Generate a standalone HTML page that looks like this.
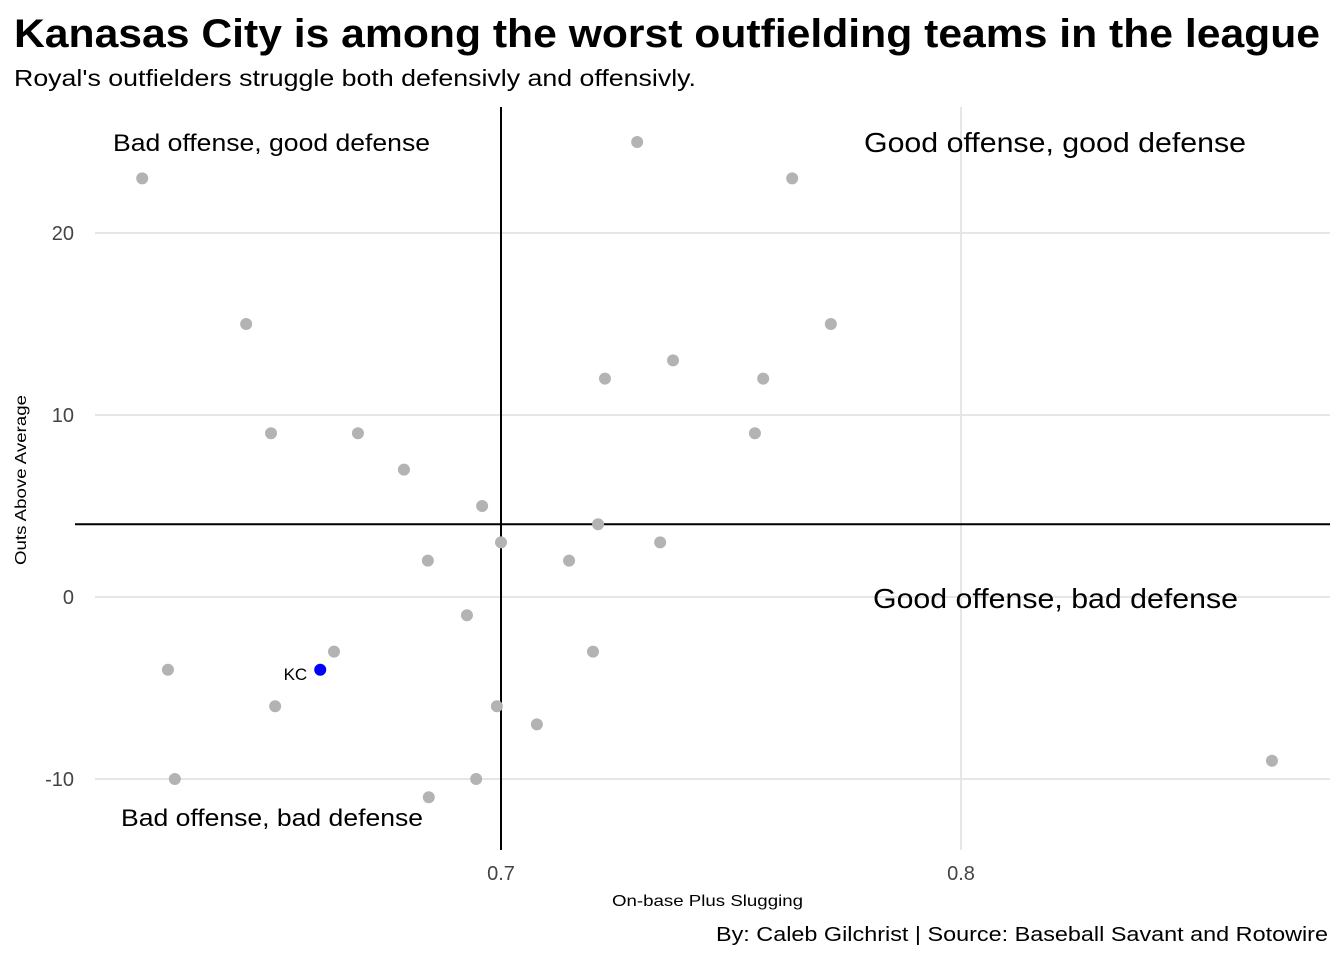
<!DOCTYPE html>
<html><head><meta charset="utf-8"><style>
body{margin:0;background:#fff;font-family:"Liberation Sans",sans-serif}
</style></head><body>
<svg width="1344" height="960" font-family="Liberation Sans, sans-serif">
<text x="14" y="47" font-size="40" font-weight="bold" textLength="1306" lengthAdjust="spacingAndGlyphs">Kanasas City is among the worst outfielding teams in the league</text>
<text x="14" y="86" font-size="23" textLength="682" lengthAdjust="spacingAndGlyphs">Royal's outfielders struggle both defensivly and offensivly.</text>
<g id="grid"></g>
<g id="pts"></g>
<g id="ann"></g>
<text x="612" y="906" font-size="16" textLength="191" lengthAdjust="spacingAndGlyphs">On-base Plus Slugging</text>
<text transform="translate(26,565) rotate(-90)" font-size="16" textLength="170" lengthAdjust="spacingAndGlyphs">Outs Above Average</text>
<text x="716" y="941" font-size="20" textLength="612" lengthAdjust="spacingAndGlyphs">By: Caleb Gilchrist | Source: Baseball Savant and Rotowire</text>
</svg>
<script>
const xTicks=[0.7,0.8];
const yTicks=[20,10,0,-10];
const ops=[0.622,0.6446,0.65,0.6689,0.6789,0.6959,0.6841,0.7,0.6926,0.6637,0.6276,0.6509,0.6291,0.6843,0.6946,0.6991,0.7078,0.7148,0.72,0.7211,0.7226,0.7296,0.7346,0.7374,0.7552,0.757,0.7633,0.7717,0.8676];
const oaa=[23,15,9,9,7,5,2,3,-1,-3,-4,-6,-10,-11,-10,-6,-7,2,-3,4,12,25,3,13,9,12,23,15,-9];
const kcOps=[0.6607];const kcOaa=[-4];
const meanOps=0.7, meanOaa=4;
const X=v=>501+(v-0.7)*4600, Y=v=>597-v*18.2;
const ns="http://www.w3.org/2000/svg";
function mk(t,a,p){const e=document.createElementNS(ns,t);for(const k in a)e.setAttribute(k,a[k]);document.getElementById(p).appendChild(e);return e;}
yTicks.forEach(t=>{const l=mk('line',{x1:95,x2:1330,y1:Y(t),y2:Y(t),stroke:'#e6e6e6','stroke-width':2},'grid');


const tx=mk('text',{x:74,y:Y(t)+7,'font-size':20,fill:'#444','text-anchor':'end'},'grid');tx.textContent=t;

});
xTicks.forEach(t=>{const l=mk('line',{x1:X(t),x2:X(t),y1:107,y2:850,stroke:'#e6e6e6','stroke-width':2},'grid');


const tx=mk('text',{x:X(t),y:880,'font-size':20,fill:'#444','text-anchor':'middle'},'grid');tx.textContent=t;

});
const vl=mk('line',{x1:X(meanOps),x2:X(meanOps),y1:107,y2:850,stroke:'#000','stroke-width':2},'grid');


const hl=mk('line',{x1:75,x2:1330,y1:Y(meanOaa),y2:Y(meanOaa),stroke:'#000','stroke-width':2},'grid');


ops.forEach((v,i)=>{const c=mk('circle',{cx:X(v),cy:Y(oaa[i]),r:6,fill:'#b3b3b3'},'pts');

});
kcOps.forEach((v,i)=>{const c=mk('circle',{cx:X(v),cy:Y(kcOaa[i]),r:6,fill:'#0000ff'},'pts');


const t=mk('text',{x:X(v)-13,y:Y(kcOaa[i])+10,'font-size':17,'text-anchor':'end'},'pts');t.textContent='KC';

});
[["Bad offense, good defense",113,151,24,317,'quadrant-label-top-left'],["Good offense, good defense",864,152,28,382,'quadrant-label-top-right'],["Good offense, bad defense",873,608,28,365,'quadrant-label-bottom-right'],["Bad offense, bad defense",121,826,24,302,'quadrant-label-bottom-left']].forEach(a=>{
const t=mk('text',{x:a[1],y:a[2],'font-size':a[3],textLength:a[4],lengthAdjust:'spacingAndGlyphs'},'ann');t.textContent=a[0];

});
</script>
</body></html>
